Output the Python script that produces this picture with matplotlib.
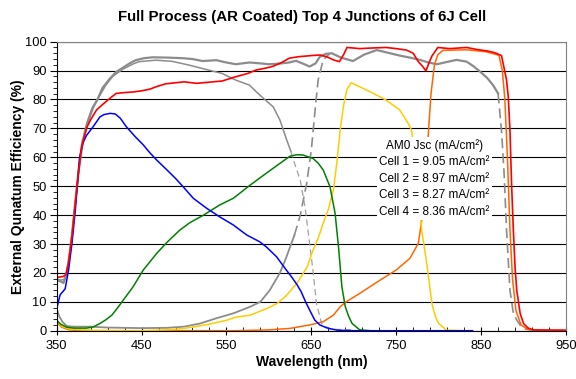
import numpy as np
import matplotlib
matplotlib.use("Agg")
import matplotlib.pyplot as plt

plt.rcParams['font.family'] = ['Liberation Sans', 'DejaVu Sans']

# data (wavelength nm, EQE %)
red_wl = [350, 358, 361, 364, 368, 372, 375.5, 379.5, 385, 390, 397, 405, 411, 420, 430, 440, 450, 460, 467, 478,
          490, 500, 515, 530, 545, 560, 575, 585, 597, 605, 615, 624, 635, 650, 660, 668, 676, 683, 688, 692,
          700, 707, 720, 738, 750, 762, 770, 776, 781, 785, 789, 792, 799, 813, 833, 845, 857, 866, 874, 877,
          880, 882, 884, 886, 888, 890, 892, 896, 900, 905, 911, 950]
red_eqe = [18.4, 18.8, 19.5, 23.5, 32.5, 44, 54.5, 63.7, 70, 73, 76.4, 78.5, 80, 82.1, 82.4, 82.6, 83, 83.6, 84.4, 85.4,
           85.8, 86.1, 85.6, 86, 86.4, 87.8, 89, 90.2, 90.9, 91.5, 92.8, 94.3, 94.8, 95.2, 95.4, 94.8, 93.7, 93.1, 95.5, 98,
           97.8, 97.6, 97.8, 98, 97.6, 97.1, 96, 93.1, 91.5, 89.9, 93, 95, 98, 97.6, 98, 97.3, 96.8, 96.2, 95.2, 91,
           86.7, 81, 69.4, 50, 34.8, 22, 14, 6, 2.5, 1, 0.3, 0.2]

cell1_wl = [350, 354, 360, 364, 368, 372, 377, 381, 385, 393, 401, 406, 413, 419, 425, 432, 442, 452, 460, 468,
            480, 490, 499, 511, 527, 542, 558, 574, 589, 597, 609, 619, 627, 633, 638, 644, 650, 654, 660, 668,
            680, 700, 840]
cell1_eqe = [7.5, 12.4, 14.5, 21, 30.2, 41.8, 60, 65, 67.5, 70.6, 74, 74.8, 75.2, 75, 73.5, 70.6, 67.3, 64.3, 61.5, 59,
             55.6, 52.7, 49.8, 45.8, 42.3, 39.4, 36.6, 33.1, 30.8, 29, 25.6, 21.6, 18.5, 16, 13.5, 9.5, 6, 3.7, 2, 1.0,
             0.2, 0, 0]

cell2_wl = [350, 355, 362, 370, 385, 393, 401, 408, 415, 422, 428.5, 440, 452, 468, 480, 495, 507, 523, 542, 558,
            578, 597, 613, 625, 633, 640, 652, 658, 664, 672, 678, 682, 686, 690, 694, 698, 707, 720]
cell2_eqe = [3.6, 2.2, 1.2, 0.9, 0.9, 1.3, 2.5, 3.8, 5.4, 8, 10.6, 15.2, 21, 26.8, 30.6, 34.8, 37.4, 40, 43.5, 45.8,
             50.4, 54.5, 57.9, 60.4, 60.9, 60.8, 59.6, 58, 55.6, 49.8, 40.6, 29, 15.2, 8.3, 5, 2.5, 0.3, 0]

cell3_wl = [350, 356, 365, 380, 400, 450, 487, 505, 527, 550, 560, 578, 597, 610, 620, 633, 645, 652, 658, 664,
            670, 676, 680, 684, 688, 692, 697, 707, 723, 738, 754, 764, 768, 775, 780, 786, 792, 796, 800, 809, 830]
cell3_eqe = [3.3, 1.5, 0.6, 0.3, 0.1, 0, 0.4, 1.0, 2.1, 3.6, 4.6, 5.4, 7.6, 9.5, 12, 16.4, 22, 27.9, 32, 37.2,
             42, 48.7, 58, 69.4, 78, 83.5, 85.8, 84.4, 82.1, 79.8, 76.4, 71.8, 69.4, 55, 34.8, 23.3, 9.5, 5, 2.5, 0.2, 0]

cell4_wl = [350, 356, 365, 380, 560, 600, 625, 648, 664, 676, 684, 691, 707, 731, 750, 766, 776, 781, 785, 788,
            791, 795, 799, 805, 833, 856, 871, 875, 878, 881, 884, 887, 891, 897, 905, 920, 950]
cell4_eqe = [2.8, 1.2, 0.3, 0, 0, 0.3, 0.8, 2, 3.1, 5.4, 8.3, 10, 12.9, 17.5, 21, 25, 30.2, 40, 55, 69,
             82, 92, 95.5, 97, 97.2, 96.5, 95.3, 90, 80, 60, 35, 18, 7, 2, 0.5, 0, 0]

# grey reference curves
grey_a_wl = [350, 355, 358, 361, 364, 368, 372, 376, 380, 386, 392, 398, 404, 412, 420, 428, 436, 443, 453, 463,
             480, 498, 510, 522, 538, 550, 561, 577, 590, 600, 612, 624, 632, 641, 648, 655, 660, 667, 674, 685,
             699, 712, 727, 740, 754, 766, 778, 788, 798, 810, 821, 833, 841, 849, 857, 864, 870]
grey_a_eqe = [17.5, 17, 16.5, 19, 24, 33, 45, 56, 65, 72, 77, 80, 84, 87, 89.5, 91, 92.5, 93.6, 94.3, 94.6,
              94.5, 94.3, 94, 93.3, 93.6, 92.8, 92.2, 92.8, 92.5, 92.2, 92.4, 92.8, 93.4, 92.3, 91.4, 92.5, 94.8, 95.8, 96, 94.5,
              93.3, 95.5, 97.1, 96.2, 95.2, 94.5, 93.7, 92.8, 92.2, 93, 93.7, 93.1, 91.5, 89.6, 87.5, 85, 82.1]
grey_a_tail_wl = [870, 874, 877, 880, 884, 888, 892, 897, 903, 915, 950]
grey_a_tail_eqe = [82.1, 69.4, 55, 34.8, 14, 6, 3.7, 1.5, 0.5, 0, 0]

grey_b_wl = [350, 355, 359, 362, 365, 369, 373, 377, 381, 387, 393, 400, 408, 416, 428, 440, 447, 467, 486, 506,
             526, 545, 561, 577, 585, 597, 605, 613, 621, 626]
grey_b_eqe = [17.8, 17.5, 17.8, 20, 26, 36, 47, 57, 65, 72, 77, 81, 85, 88, 90.5, 92.3, 93.1, 93.6, 93.2, 91.9,
              90.4, 89, 86.7, 85, 82.7, 79.5, 77.5, 72.9, 66, 62]
grey_b_tail_wl = [626, 629, 637, 642.5, 647.5, 652.3, 656, 662, 672, 700]
grey_b_tail_eqe = [62, 59, 52, 42.9, 31.4, 19.9, 9.5, 2.5, 0.5, 0.3]

grey_c_wl = [350, 353, 357, 362, 370, 390, 410, 450, 480, 500, 519, 538, 558, 578, 590, 601, 613, 620, 625, 630]
grey_c_eqe = [7.5, 5, 3, 1.6, 1.4, 1.4, 1.1, 0.9, 1.0, 1.4, 2.5, 4.3, 6, 8.3, 10, 14, 20, 25, 29, 33]
grey_c_tail_wl = [630, 637, 644.5, 650, 654, 658, 664, 672]
grey_c_tail_eqe = [33, 40, 51, 62.5, 75, 86.7, 93.7, 96]

jsc_lines = ["AM0 Jsc (mA/cm\u00b2)",
             "Cell 1 = 9.05 mA/cm\u00b2",
             "Cell 2 = 8.97 mA/cm\u00b2",
             "Cell 3 = 8.27 mA/cm\u00b2",
             "Cell 4 = 8.36 mA/cm\u00b2"]

xticks = list(range(350, 951, 100))

fig = plt.figure(figsize=(5.76, 3.79), dpi=100)
ax = fig.add_axes([0.0984, 0.1274, 0.8842, 0.7626])

ax.set_axisbelow(True)
ax.grid(True, axis='y', color='black', linewidth=0.8)

grey = '#8c8c8c'
ax.plot(grey_b_wl, grey_b_eqe, color=grey, lw=1.1)
ax.plot(grey_b_tail_wl, grey_b_tail_eqe, color='#a0a0a0', lw=0.9, dashes=(5, 3))
ax.plot(grey_c_wl, grey_c_eqe, color=grey, lw=1.3)
ax.plot(grey_c_tail_wl, grey_c_tail_eqe, color=grey, lw=1.2, dashes=(6, 3))
ax.plot(grey_a_wl, grey_a_eqe, color=grey, lw=1.6)
ax.plot(grey_a_tail_wl, grey_a_tail_eqe, color=grey, lw=1.2, dashes=(6, 3))

ax.plot(cell4_wl, cell4_eqe, color='#ff6600', lw=1.1)
ax.plot(cell3_wl, cell3_eqe, color='#ffcc00', lw=1.1)
ax.plot(cell2_wl, cell2_eqe, color='#008000', lw=1.1)
ax.plot(cell1_wl, cell1_eqe, color='#0000ff', lw=1.1)
ax.plot(red_wl, red_eqe, color='#ff0000', lw=1.2)

ax.text(795, 52.7, "\n".join(jsc_lines), ha='center', va='center', multialignment='center',
        fontsize=8.5, linespacing=1.5, bbox=dict(facecolor='white', edgecolor='none', pad=1.5))

ax.set_xlim(350, 950)
ax.set_ylim(0, 100)
ax.set_xticks(xticks)
ax.set_xticks(range(350, 951, 20), minor=True)
ax.set_yticks(range(0, 101, 10))
ax.set_yticks(range(0, 101, 2), minor=True)
ax.tick_params(axis='x', which='major', direction='inout', length=6, labelsize=9.3, pad=4)
ax.tick_params(axis='x', which='minor', direction='in', length=3)
ax.tick_params(axis='y', which='major', direction='out', length=5, labelsize=9.3, pad=2)
ax.tick_params(axis='y', which='minor', direction='out', length=3)

ax.spines['top'].set_color('#808080')
ax.spines['right'].set_color('#808080')
for s in ['left', 'bottom']:
    ax.spines[s].set_color('black')

ax.set_xlabel("Wavelength (nm)", fontsize=10, fontweight='bold', labelpad=2)
ax.set_ylabel("External Qunatum Efficiency (%)", fontsize=10, fontweight='bold', labelpad=0)
fig.text(0.524, 0.955, "Full Process (AR Coated) Top 4 Junctions of 6J Cell", ha='center', va='center',
         fontsize=10.8, fontweight='bold')

fig.savefig("out.png", dpi=100)
